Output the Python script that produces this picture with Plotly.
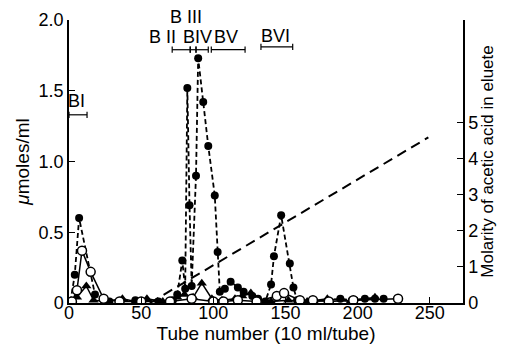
import plotly.graph_objects as go

# Filled circles (dashed line)
filled_x = [1, 4, 7, 18, 28, 46, 62, 72, 75, 78.5, 80.5, 82, 83.5, 85, 88, 89.5, 93, 96.5, 101, 103, 104.5,
            108, 112, 117, 121, 127, 131, 136, 140, 142, 147, 153, 155.5, 158, 170, 188, 196, 205, 212, 218]
filled_y = [0.01, 0.20, 0.60, 0.06, 0.01, 0.02, 0.01, 0.02, 0.06, 0.30, 0.10, 1.52, 0.69, 0.12, 0.90, 1.73, 1.42,
            1.11, 0.76, 0.36, 0.08, 0.10, 0.15, 0.11, 0.08, 0.05, 0.03, 0.01, 0.13, 0.33, 0.62, 0.28, 0.11,
            0.02, 0.01, 0.03, 0.02, 0.03, 0.03, 0.03]

# Open circles (solid line)
open_x = [2, 5.5, 9, 15, 24, 35, 50, 70, 85, 100, 107, 117, 130, 144, 149, 160, 169, 180, 197, 228]
open_y = [0.01, 0.09, 0.37, 0.22, 0.03, 0.01, 0.01, 0.01, 0.03, 0.01, 0.01, 0.02, 0.01, 0.05, 0.07, 0.02,
          0.02, 0.01, 0.02, 0.03]

# Filled triangles (solid line)
tri_x = [2, 5.5, 12, 17, 25, 37, 46, 54, 65, 75, 80, 86, 92, 99, 106, 115, 120, 126, 132, 140, 152, 165,
         179, 195, 212]
tri_y = [0.01, 0.04, 0.12, 0.02, 0.01, 0.03, 0.01, 0.03, 0.01, 0.04, 0.06, 0.04, 0.14, 0.03, 0.02, 0.03,
         0.05, 0.07, 0.02, 0.01, 0.02, 0.01, 0.03, 0.01, 0.04]

# Acetic acid gradient (right axis, molarity)
grad_x = [56, 249]
grad_y = [0.0, 4.6]

# Fraction labels and ranges (tube numbers, left-axis units)
frac_names = ["BI", "B II", "B III", "BIV", "BV", "BVI"]
frac_start = [0, 71.5, 84, 88, 98.6, 133]
frac_end = [12.5, 84, 88, 96.5, 122, 155]
frac_bar_y = [1.33, 1.79, 1.79, 1.79, 1.79, 1.81]
frac_text_x = [5.5, 65, 81, 89, 109, 143]
frac_text_y = [1.43, 1.88, 2.02, 1.88, 1.88, 1.89]

x_ticks = [0, 50, 100, 150, 200, 250]
y_ticks = [0, 0.5, 1.0, 1.5, 2.0]
y_ticklabels = ["0", "0.5", "1.0", "1.5", "2.0"]
y2_ticks = [0, 1, 2, 3, 4, 5]
Y_MAX = 2.0

FONT = "Liberation Sans, Arial, sans-serif"

fig = go.Figure()
fig.add_trace(go.Scatter(x=grad_x, y=grad_y, yaxis="y2", mode="lines",
                         line=dict(color="black", width=2, dash="10px,6px"), showlegend=False))
fig.add_trace(go.Scatter(x=tri_x, y=tri_y, mode="lines+markers",
                         line=dict(color="black", width=1.5),
                         marker=dict(symbol="triangle-up", size=9, color="black"), showlegend=False))
fig.add_trace(go.Scatter(x=filled_x, y=filled_y, mode="lines+markers",
                         line=dict(color="black", width=1.8, dash="5px,3px"),
                         marker=dict(symbol="circle", size=8, color="black"), showlegend=False))
fig.add_trace(go.Scatter(x=open_x, y=open_y, mode="lines+markers",
                         line=dict(color="black", width=1.5),
                         marker=dict(symbol="circle", size=9, color="white",
                                     line=dict(color="black", width=1.5)), showlegend=False))

shapes = []
annotations = []
cap = 0.022
for name, s, e, by, tx, ty in zip(frac_names, frac_start, frac_end, frac_bar_y, frac_text_x, frac_text_y):
    shapes.append(dict(type="line", xref="x", yref="y", x0=s, x1=e, y0=by, y1=by,
                       line=dict(color="black", width=1.2)))
    for xx in (s, e):
        shapes.append(dict(type="line", xref="x", yref="y", x0=xx, x1=xx, y0=by - cap, y1=by + cap,
                           line=dict(color="black", width=1.2)))
    annotations.append(dict(x=tx, y=ty / Y_MAX, xref="x", yref="paper", text=name, showarrow=False,
                            font=dict(family=FONT, size=18, color="black"),
                            xanchor="center", yanchor="middle"))

# The page body adds an 8 px offset, so the figure is 8 px smaller and margins compensate.
fig.update_layout(
    width=500, height=341,
    margin=dict(l=61, r=45, t=12, b=46),
    paper_bgcolor="white", plot_bgcolor="white",
    font=dict(family=FONT, size=18, color="black"),
    shapes=shapes, annotations=annotations,
    xaxis=dict(range=[0, 273], tickvals=x_ticks, ticks="inside", ticklen=6, tickcolor="black",
               showline=True, linecolor="black", linewidth=1.5, showgrid=False, zeroline=False,
               automargin=False, ticklabelstandoff=-7,
               title=dict(text="Tube number (10 ml/tube)", font=dict(size=19), standoff=0),
               tickfont=dict(size=18)),
    yaxis=dict(range=[0, Y_MAX], tickvals=y_ticks, ticktext=y_ticklabels, ticks="inside", ticklen=6,
               tickcolor="black", showline=True, linecolor="black", linewidth=1.5, showgrid=False,
               zeroline=False, automargin=False,
               title=dict(text="<i>μ</i>moles/ml", font=dict(size=19), standoff=4),
               tickfont=dict(size=18)),
    yaxis2=dict(range=[0, 7.86], overlaying="y", side="right", tickvals=y2_ticks, ticks="inside",
                ticklen=6, tickcolor="black", showline=True, linecolor="black", linewidth=1.5,
                showgrid=False, zeroline=False, automargin=False,
                title=dict(text="Molarity of acetic acid in eluete", font=dict(size=17), standoff=4),
                tickfont=dict(size=18)),
)

fig.write_html("out.html")
